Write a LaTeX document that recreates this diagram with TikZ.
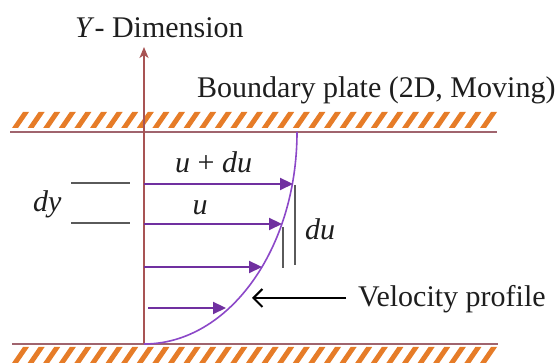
\documentclass[tikz,border=0pt]{standalone}
\usepackage{fontspec}
\setmainfont{Liberation Serif}
\usetikzlibrary{arrows.meta}
\definecolor{hatchorange}{RGB}{230,124,40}
\definecolor{platebrown}{RGB}{160,100,110}
\definecolor{axisred}{RGB}{168,84,84}
\definecolor{arrowpurple}{RGB}{112,48,160}
\definecolor{curvepurple}{RGB}{140,72,200}
\definecolor{markgray}{RGB}{90,90,90}
\definecolor{txt}{RGB}{30,30,30}
\begin{document}
\begin{tikzpicture}[x=1pt,y=1pt,
  lbl/.style={inner sep=0pt, font=\fontsize{30}{36}\selectfont, text=txt},
  stripe/.style={fill=hatchorange, draw=none},
  plateline/.style={draw=platebrown, line width=2pt},
  velarrow/.style={draw=arrowpurple, line width=2.2pt, -{Triangle[length=13pt,width=12pt]}},
  marker/.style={draw=markgray, line width=2pt},
  profile/.style={draw=curvepurple, line width=1.6pt}]
\useasboundingbox (0,0) rectangle (557,363);
% plates
\foreach \i in {0,...,30} {
  \path[stripe] ({12+15.6*\i},235) -- ++(6,0) -- ++(11,16) -- ++(-6,0) -- cycle;
  \path[stripe] ({12+15.6*\i},0) -- ++(6,0) -- ++(11,16) -- ++(-6,0) -- cycle;
}
\coordinate (tl) at (10,231);
\coordinate (tr) at (497,231);
\coordinate (bl) at (12,19);
\coordinate (br) at (498,19);
\draw[plateline] (tl) -- (tr);
\draw[plateline] (bl) -- (br);
% axis
\coordinate (o) at (144,19);
\coordinate (ytop) at (144,316);
\draw[draw=axisred, line width=1.8pt, -{Stealth[length=11pt,width=9pt,inset=3pt]}] (o) -- (ytop);
% profile
\draw[profile] (o) arc[start angle=-90, end angle=0, x radius=153, y radius=212] coordinate (ptop);
% velocity arrows
\coordinate (a1s) at (144,179); \coordinate (a1e) at (293,179);
\coordinate (a2s) at (144,139); \coordinate (a2e) at (282,139);
\coordinate (a3s) at (144,96);  \coordinate (a3e) at (262,96);
\coordinate (a4s) at (148,55);  \coordinate (a4e) at (226,55);
\draw[velarrow] (a1s) -- (a1e);
\draw[velarrow] (a2s) -- (a2e);
\draw[velarrow] (a3s) -- (a3e);
\draw[velarrow] (a4s) -- (a4e);
% dy marks
\coordinate (dy1a) at (71,180); \coordinate (dy1b) at (130,180);
\coordinate (dy2a) at (71,140); \coordinate (dy2b) at (130,140);
\draw[marker] (dy1a) -- (dy1b);
\draw[marker] (dy2a) -- (dy2b);
% du marks
\coordinate (du1a) at (295,178); \coordinate (du1b) at (295,98);
\coordinate (du2a) at (283,136); \coordinate (du2b) at (283,95);
\draw[marker] (du1a) -- (du1b);
\draw[marker] (du2a) -- (du2b);
% labels
\node[lbl, anchor=base west] (ylab) at (75,325) {\textit{Y}- Dimension};
\node[lbl, anchor=base west] (plab) at (197,265) {Boundary plate (2D, Moving)};
\node[lbl, anchor=base west] (vlab) at (358,56) {Velocity profile};
\node[lbl, anchor=base west] (udu) at (175,190) {\textit{u} + \textit{du}};
\node[lbl, anchor=base] (ulab) at (200,148) {\textit{u}};
\node[lbl, anchor=base west] (dulab) at (305,123) {\textit{du}};
\node[lbl, anchor=base west] (dylab) at (33,151) {\textit{dy}};
% velocity profile pointer
\coordinate (ptip) at (252,65);
\draw[draw=black, line width=2pt, -{Straight Barb[length=9pt,width=18pt]}] (vlab.west |- ptip) ++(-12,0) coordinate (pstart) -- (ptip);
\end{tikzpicture}
\end{document}
